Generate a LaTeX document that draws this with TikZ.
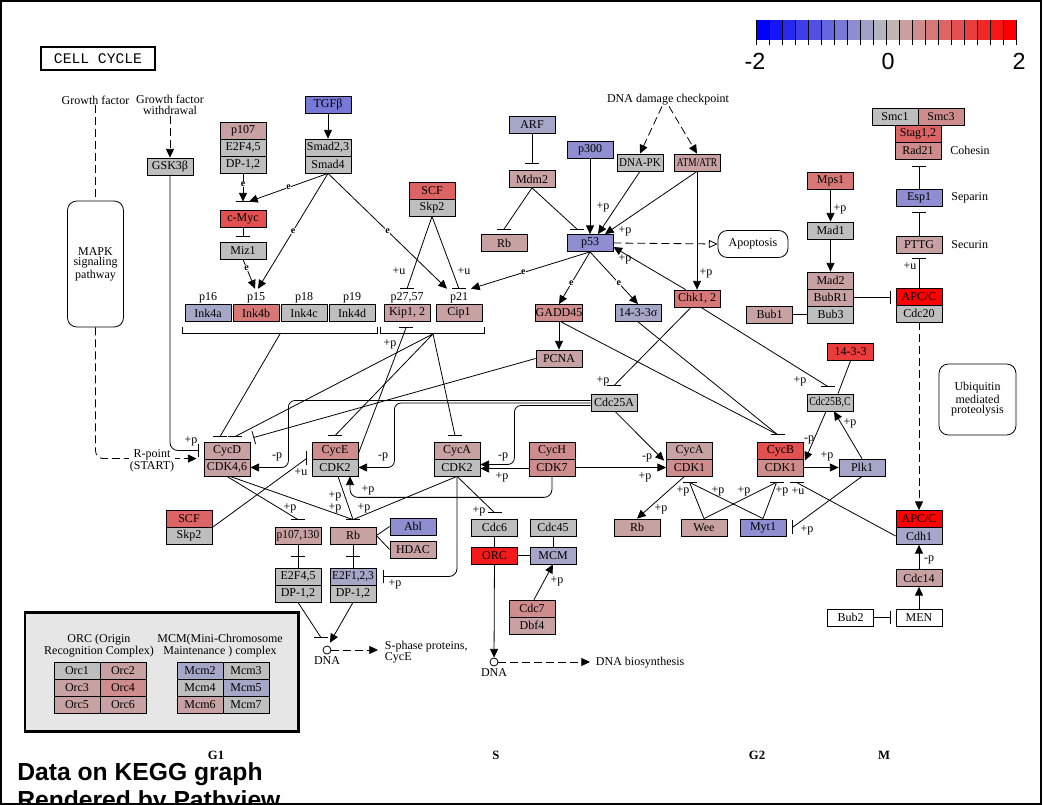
\documentclass[tikz,border=0pt]{standalone}
\usepackage{fontspec}
\setmainfont{Liberation Serif}
\setsansfont{Liberation Sans}
\setmonofont{Liberation Mono}
\usepackage{xcolor}
\usepackage{tikz}
\usetikzlibrary{arrows.meta,positioning,calc}
\definecolor{kg}{HTML}{BEBEBE}
\definecolor{pr1}{HTML}{C8A2A2}
\definecolor{pr2}{HTML}{CF8C8C}
\definecolor{pr3}{HTML}{D67878}
\definecolor{pr4}{HTML}{DD6464}
\definecolor{pr5}{HTML}{E35050}
\definecolor{pr6}{HTML}{EA3C3C}
\definecolor{pr8}{HTML}{F51A1A}
\definecolor{pr9}{HTML}{FF0000}
\definecolor{pb1}{HTML}{A6A6C8}
\definecolor{pb2}{HTML}{8E8ED0}
\definecolor{pb3}{HTML}{7878D6}
\definecolor{legendbg}{HTML}{E6E6E6}
\newcommand{\genefont}{\fontsize{9}{9}\selectfont}
\newcommand{\tagfont}{\fontsize{9}{8}\selectfont}
\tikzset{
  gene/.style={draw, line width=0.6pt, fill=kg, minimum width=34.5pt, minimum height=12.75pt, inner sep=0pt, font=\genefont},
  pathway/.style={draw, line width=0.6pt, rounded corners=7pt, align=center, font=\tagfont, inner sep=1pt},
  plain/.style={font=\tagfont, inner sep=0.5pt, align=center},
  tag/.style={font=\tagfont, inner sep=0.5pt},
  etag/.style={font=\fontsize{7.5}{7.5}\selectfont\bfseries, inner sep=0.3pt, fill=white},
  phase/.style={font=\fontsize{9.5}{9.5}\selectfont\bfseries, inner sep=0pt},
  credit/.style={font=\sffamily\bfseries\fontsize{18.5}{18.5}\selectfont, anchor=base west, inner sep=0pt, text height=13pt},
  edge/.style={line width=0.6pt},
  arr/.style={edge, -{Triangle[length=6.5pt,width=6pt]}},
  inh/.style={edge, -{Bar[width=10pt]}},
  dashline/.style={edge, dash pattern=on 6pt off 3pt},
  dasharr/.style={arr, dash pattern=on 6pt off 3pt}
}
\newcommand{\hinh}[1]{\draw[edge] ($(#1)+(-7,0)$) -- ($(#1)+(7,0)$);}
\newcommand{\vinh}[1]{\draw[edge] ($(#1)+(0,-7)$) -- ($(#1)+(0,7)$);}

\begin{document}
\begin{tikzpicture}[x=0.75pt,y=-0.75pt]
\useasboundingbox (0,0) rectangle (1043,805);
\clip (0,0) rectangle (1043,805);
\draw[line width=1.5pt] (0.8,0.8) rectangle (1040.5,803.5);

% title and colour key
\node[draw, line width=1.5pt, minimum width=85pt, minimum height=17pt, inner sep=0pt, font=\ttfamily\fontsize{11}{11}\selectfont] (title) at (98,58.5) {CELL CYCLE};
\foreach \k in {0,...,19}{
  \pgfmathtruncatemacro\mixv{\k<10 ? round(100*\k/9.5) : round(100-100*(\k-9.5)/9.5)}
  \ifnum\k<10 \colorlet{segc}{kg!\mixv!blue}\else\colorlet{segc}{kg!\mixv!red}\fi
  \fill[segc] (756+13*\k,20) rectangle (769+13*\k,40);
}
\foreach \k in {0,...,20}{\draw[edge] (756+13*\k,20) -- (756+13*\k,45);}
\node[font=\sffamily\fontsize{17.5}{17.5}\selectfont, inner sep=0pt] (kmin) at (755,61.5) {-2};
\node[font=\sffamily\fontsize{17.5}{17.5}\selectfont, inner sep=0pt] (kmid) at (888,61.5) {0};
\node[font=\sffamily\fontsize{17.5}{17.5}\selectfont, inner sep=0pt] (kmax) at (1019,61.5) {2};

% G1 entry
\node[plain] (gf) at (95.5,100) {Growth factor};
\node[plain] (gfw) at (170,105) {Growth factor\\withdrawal};
\node[gene] (gsk) at (170,166.5) {GSK3β};
\node[pathway, minimum width=42pt, minimum height=94.5pt] (mapk) at (95.5,264) {MAPK\\signaling\\pathway};
\node[gene, fill=pb3] (tgfb) at (328,104.5) {TGFβ};
\node[gene] (smad23) at (328,147.5) {Smad2,3};
\node[gene] (smad4) at (328,164.5) {Smad4};
\node[gene, fill=pr1] (p107) at (243,130.5) {p107};
\node[gene] (e2f45t) at (243,147.5) {E2F4,5};
\node[gene] (dp12t) at (243,164.5) {DP-1,2};
\node[gene, fill=pr5] (cmyc) at (243,218.5) {c-Myc};
\node[gene] (miz1) at (243,250.5) {Miz1};
\node[gene, fill=pb1] (ink4a) at (208,313) {Ink4a};
\node[gene, fill=pr3] (ink4b) at (256,313) {Ink4b};
\node[gene] (ink4c) at (304,313) {Ink4c};
\node[gene] (ink4d) at (352,313) {Ink4d};
\node[tag, above=0pt of ink4a] (lp16) {p16};
\node[tag, above=0pt of ink4b] (lp15) {p15};
\node[tag, above=0pt of ink4c] (lp18) {p18};
\node[tag, above=0pt of ink4d] (lp19) {p19};
\node[gene, fill=pr4] (scft) at (432,190.5) {SCF};
\node[gene] (skp2t) at (432,207.5) {Skp2};
\node[gene, fill=pr1] (kip) at (407,313) {Kip1, 2};
\node[gene, fill=pr1] (cip) at (459,313) {Cip1};
\node[tag, above=0pt of kip] (lp27) {p27,57};
\node[tag, above=0pt of cip] (lp21) {p21};

% p53 branch
\node[gene, fill=pb1] (arf) at (532,124.5) {ARF};
\node[gene, fill=pr1] (mdm2) at (532,179) {Mdm2};
\node[gene, fill=pr1] (rbt) at (504,243) {Rb};
\node[gene, fill=pb2] (p300) at (590,150) {p300};
\node[gene, fill=pb2] (p53) at (590,243) {p53};
\node[gene] (dnapk) at (640,162.5) {\scalebox{0.92}[1]{DNA-PK}};
\node[gene, fill=pr1] (atm) at (697,162.5) {\scalebox{0.78}[1]{ATM/ATR}};
\node[plain] (ddc) at (668,100) {DNA damage checkpoint};
\node[pathway, minimum width=52.5pt, minimum height=20.25pt] (apop) at (753,244) {Apoptosis};
\node[gene, fill=pr2] (gadd) at (559,313) {GADD45};
\node[gene, fill=pb1] (s1433) at (638,313) {14-3-3σ};
\node[gene, fill=pr3] (chk) at (697,298.5) {Chk1, 2};
\node[gene, fill=pr1] (pcna) at (559,358.5) {PCNA};
\node[gene] (cdc25a) at (614,402.5) {Cdc25A};

% spindle checkpoint and cohesin
\node[gene, fill=pr3] (mps1) at (830.5,180.5) {Mps1};
\node[gene] (mad1) at (830.5,230.5) {Mad1};
\node[gene, fill=pr1] (mad2) at (830.5,280.5) {Mad2};
\node[gene, fill=pr1] (bubr1) at (830.5,297.5) {BubR1};
\node[gene] (bub3) at (830.5,314.5) {Bub3};
\node[gene, fill=pr1] (bub1) at (769.5,314.5) {Bub1};
\node[gene] (smc1) at (895,116.5) {Smc1};
\node[gene, fill=pr2] (smc3) at (941,116.5) {Smc3};
\node[gene, fill=pr4] (stag) at (918,133.5) {Stag1,2};
\node[gene, fill=pr2] (rad21) at (918,150.5) {Rad21};
\node[tag, right=6pt of rad21] (cohesin) {Cohesin};
\node[gene, fill=pb2] (esp1) at (919,197.5) {Esp1};
\node[tag, right=6pt of esp1] (separin) {Separin};
\node[gene, fill=pr1] (pttg) at (919,244.5) {PTTG};
\node[tag, right=6pt of pttg] (securin) {Securin};
\node[gene, fill=pr9] (apct) at (919,296.5) {APC/C};
\node[gene] (cdc20) at (919,313.5) {Cdc20};
\node[gene, fill=pr6] (s143) at (850.5,352) {14-3-3};
\node[gene] (cdc25bc) at (830,402.5) {\scalebox{0.82}[1]{Cdc25B,C}};
\node[pathway, minimum width=57.75pt, minimum height=53.25pt] (ubiq) at (977.5,399.5) {Ubiquitin\\mediated\\proteolysis};

% cyclin / CDK row
\node[gene, fill=pr1] (cycd) at (227,450.5) {CycD};
\node[gene, fill=pr1] (cdk46) at (227,467.5) {CDK4,6};
\node[gene, fill=pr2] (cyce) at (335,450.5) {CycE};
\node[gene] (cdk2e) at (335,467.5) {CDK2};
\node[gene, fill=pr1] (cyca2) at (457,450.5) {CycA};
\node[gene] (cdk2a) at (457,467.5) {CDK2};
\node[gene, fill=pr2] (cych) at (552,450.5) {CycH};
\node[gene, fill=pr2] (cdk7) at (552,467.5) {CDK7};
\node[gene, fill=pr1] (cyca1) at (689.5,450.5) {CycA};
\node[gene, fill=pr2] (cdk1a) at (689.5,467.5) {CDK1};
\node[gene, fill=pr5] (cycb) at (780.5,450.5) {CycB};
\node[gene, fill=pr2] (cdk1b) at (780.5,467.5) {CDK1};
\node[gene, fill=pb1] (plk1) at (862,467.5) {Plk1};

% lower part
\node[gene, fill=pr4] (scfb) at (189,518.5) {SCF};
\node[gene] (skp2b) at (189,535.5) {Skp2};
\node[gene, fill=pr1] (p107130) at (298,535.5) {\scalebox{0.95}[1]{p107,130}};
\node[gene, fill=pr1] (rbm) at (353,535.5) {Rb};
\node[gene, fill=pb2] (abl) at (413,526.5) {Abl};
\node[gene, fill=pr1] (hdac) at (413,549.5) {HDAC};
\node[gene] (e2f45b) at (298,576.5) {E2F4,5};
\node[gene] (dp12a) at (298,593.5) {DP-1,2};
\node[gene, fill=pb1] (e2f123) at (353,576.5) {\scalebox{0.95}[1]{E2F1,2,3}};
\node[gene] (dp12b) at (353,593.5) {DP-1,2};
\node[gene] (cdc6) at (494.5,527.5) {Cdc6};
\node[gene] (cdc45) at (553,527.5) {Cdc45};
\node[gene, fill=pr8] (orc) at (494.5,555.5) {ORC};
\node[gene, fill=pb1] (mcm) at (553,555.5) {MCM};
\node[gene, fill=pr2] (cdc7) at (532,608.5) {Cdc7};
\node[gene, fill=pr1] (dbf4) at (532,625.5) {Dbf4};
\node[gene, fill=pr1] (rbb) at (637,527.5) {Rb};
\node[gene, fill=pr1] (wee) at (704,527.5) {Wee};
\node[gene, fill=pb2] (myt1) at (763,527.5) {Myt1};
\node[gene, fill=pr9] (apcb) at (919,519) {APC/C};
\node[gene, fill=pb1] (cdh1) at (919,536) {Cdh1};
\node[gene, fill=pr1] (cdc14) at (919,578) {Cdc14};
\node[gene, fill=white] (bub2) at (850.5,617.5) {Bub2};
\node[gene, fill=white] (men) at (919,617.5) {MEN};
\node[circle, draw, line width=0.6pt, minimum size=6pt, inner sep=0pt] (dna1) at (327,650) {};
\node[tag, below=1pt of dna1] (dna1lab) {DNA};
\node[circle, draw, line width=0.6pt, minimum size=6pt, inner sep=0pt] (dna2) at (494,662) {};
\node[tag, below=1pt of dna2] (dna2lab) {DNA};
\node[tag, anchor=west, align=left] (sphase) at (384,652) {S-phase proteins,\\CycE};
\node[tag, anchor=west] (dnabio) at (595,663) {DNA biosynthesis};

% legend
\node[draw, line width=2pt, fill=legendbg, minimum width=205pt, minimum height=89pt] (legend) at (161.5,672) {};
\node[plain] (orclab) at (99,645.5) {ORC (Origin\\Recognition Complex)};
\node[plain] (mcmlab) at (220,645.5) {MCM(Mini-Chromosome\\Maintenance ) complex};
\node[gene] (orc1) at (77,670.5) {Orc1};
\node[gene, fill=pr1] (orc2) at (123,670.5) {Orc2};
\node[gene, fill=pr1] (orc3) at (77,687.5) {Orc3};
\node[gene, fill=pr2] (orc4) at (123,687.5) {Orc4};
\node[gene, fill=pr1] (orc5) at (77,704.5) {Orc5};
\node[gene, fill=pr1] (orc6) at (123,704.5) {Orc6};
\node[gene, fill=pb1] (mcm2) at (200,670.5) {Mcm2};
\node[gene] (mcm3) at (246,670.5) {Mcm3};
\node[gene] (mcm4) at (200,687.5) {Mcm4};
\node[gene, fill=pb1] (mcm5) at (246,687.5) {Mcm5};
\node[gene, fill=pr1] (mcm6) at (200,704.5) {Mcm6};
\node[gene] (mcm7) at (246,704.5) {Mcm7};

\node[phase] (g1) at (216,755) {G1};
\node[phase] (sph) at (496,755) {S};
\node[phase] (g2) at (757,755) {G2};
\node[phase] (mph) at (884,755) {M};
\node[credit] (datatxt) at (17,780) {Data on KEGG graph};
\node[credit] (rendtxt) at (17,808) {Rendered by Pathview};

% connectors: growth signals
\draw[dashline] (gf.south) -- (mapk.north);
\draw[dasharr] (gfw.south) -- (gsk.north);
\draw[dasharr, rounded corners=6pt] (mapk.south) |- ($(cdk46.north west)+(-7,0)$);
\node[plain, fill=white] (rpoint) at (152,461) {R-point\\(START)};
\draw[inh, rounded corners=6pt] (gsk.south) |- ($(cycd.west)+(-5,0)$);
\draw[arr] (tgfb) -- (smad23);
\coordinate (mycbar) at ($(cmyc.north)+(0,-8)$);
\draw[arr] (dp12t) -- (mycbar) node[etag, pos=0.4] (e1) {e};
\draw[arr] (smad4.south) -- ($(mycbar)+(6,0)$) node[etag, pos=0.5] (e2) {e};
\hinh{mycbar}
\draw[inh] (cmyc) -- ($(miz1.north)+(0,-5)$);
\draw[arr] (smad4.south) -- ($(lp15.north)+(2,-3)$) node[etag, pos=0.5] (e3) {e};
\draw[arr] (miz1.south) -- ($(lp15.north)+(-1,-3)$) node[etag, pos=0.3] (e4) {e};
\draw[arr] (smad4.south) -- ($(lp21.north)+(-12,-3)$) node[etag, pos=0.5] (e5) {e};
\draw[arr] (p53.south) -- ($(lp21.north)+(12,-3)$) node[etag, pos=0.56] (e6) {e};
\coordinate (kipbar) at ($(lp27.north)+(0,-3)$);
\coordinate (cipbar) at ($(lp21.north)+(0,-3)$);
\draw[edge] (skp2t.south) -- (kipbar); \hinh{kipbar}
\draw[edge] (skp2t.south) -- (cipbar); \hinh{cipbar}

% p53 branch
\draw[inh] (arf) -- ($(mdm2.north)+(0,-6)$);
\coordinate (rbtbar) at ($(rbt.north)+(0,-5)$);
\coordinate (p53bar) at ($(p53.north)+(-13,-5)$);
\draw[edge] (mdm2.south) -- (rbtbar); \hinh{rbtbar}
\draw[edge] (mdm2.south) -- (p53bar); \hinh{p53bar}
\draw[arr] (p300) -- (p53);
\draw[arr] (dnapk.south) -- ($(p53.north)+(8,0)$);
\draw[arr] (atm.south) -- ($(p53.north)+(15,0)$);
\draw[dasharr] ($(ddc.south)+(-6,0)$) -- (dnapk.north);
\draw[dasharr] ($(ddc.south)+(1,0)$) -- (atm.north);
\draw[arr] (atm.south) -- (chk.north);
\draw[dashline, -{Triangle[open,length=6.5pt,width=6pt]}] (p53.east) -- (apop.west);
\draw[arr] ($(chk.north west)+(12,0)$) -- ($(p53.east)+(0,4)$);
\draw[arr] (p53.south) -- (gadd.north) node[etag, pos=0.6] (e7) {e};
\draw[arr] (p53.south) -- (s1433.north) node[etag, pos=0.6] (e8) {e};
\draw[arr] (gadd) -- (pcna);

% spindle checkpoint and cohesin
\draw[arr] (mps1) -- (mad1);
\draw[arr] (mad1) -- (mad2);
\draw[inh] (bubr1.east) -- ($(bubr1.east -| apct.west)+(-5,0)$);
\draw[edge] (bub1) -- (bub3);
\draw[inh] (esp1) -- ($(esp1.north |- rad21.south)+(0,7)$);
\draw[inh] (pttg) -- ($(esp1.south)+(0,6)$);
\draw[inh] (apct) -- ($(pttg.south)+(0,5)$);
\draw[dasharr] (cdc20) -- (apcb);
\draw[arr] (cdc14) -- (cdh1);
\draw[arr] (men) -- (cdc14);
\draw[inh] (bub2) -- ($(men.west)+(-5,0)$);

% G2/M
\coordinate (c25abar) at ($(cdc25a.north)+(0,-8)$);
\coordinate (c25bcbar) at ($(cdc25bc.north)+(-2,-7)$);
\draw[edge] ($(chk.south)+(-6,0)$) -- (c25abar); \hinh{c25abar}
\draw[edge] ($(chk.south)+(4,0)$) -- (c25bcbar); \hinh{c25bcbar}
\draw[edge] (s143.south) -- ($(cdc25bc.north)+(8,0)$);
\coordinate (cycbbar) at ($(cycb.north)+(-3,-7)$);
\draw[edge] ($(gadd.south)+(2,0)$) -- (cycbbar);
\draw[edge] (s1433.south) -- (cycbbar);
\hinh{cycbbar}
\draw[arr] ($(cdc25bc.south)+(-4,0)$) -- ($(cdk1b.north east)+(1,2)$);
\draw[arr] (plk1.north) -- ($(cdc25bc.south)+(4,0)$);
\draw[arr] (cdk1b) -- (plk1);
\coordinate (myt1bar) at ($(myt1.east)+(6,0)$);
\draw[edge] (plk1.south) -- (myt1bar); \vinh{myt1bar}
\coordinate (cdk1abar) at ($(cdk1a.south)+(0,6)$);
\coordinate (cdk1bbar) at ($(cdk1b.south)+(-4,6)$);
\coordinate (cdk1ubar) at ($(cdk1b.south)+(16,6)$);
\draw[edge] (wee.north) -- (cdk1abar);
\draw[edge] (wee.north) -- (cdk1bbar);
\draw[edge] (myt1.north) -- (cdk1abar);
\draw[edge] (myt1.north) -- (cdk1bbar);
\draw[edge] (cdh1.west) -- (cdk1ubar);
\hinh{cdk1abar} \hinh{cdk1bbar} \hinh{cdk1ubar}
\draw[arr] ($(cdk1a.south)+(-5,0)$) -- (rbb.north);
\draw[arr] (cdk7) -- (cdk1a);
\draw[arr] ($(cdc25a.south)+(1,0)$) -- ($(cdk1a.north west)+(-2,2)$);

% G1/S
\draw[arr] ($(cdk7.west)+(0,1)$) -- ($(cdk2a.east)+(0,1)$);
\draw[arr, rounded corners=5pt] ($(cdc25a.west)+(0,3)$) -| ($(cdk2a.east)+(34,-3)$) -- ($(cdk2a.east)+(0,-3)$);
\draw[arr, rounded corners=5pt] ($(cdc25a.west)+(0,0.5)$) -| ($(cdk2e.east)+(36,0)$) -- (cdk2e.east);
\draw[arr, rounded corners=5pt] ($(cdc25a.west)+(0,-2)$) -| ($(cdk46.east)+(38,0)$) -- (cdk46.east);
\draw[arr, rounded corners=6pt] (cdk7.south) |- ($(cdk2e.south)+(15,21)$) -- ($(cdk2e.south)+(15,0)$);
\draw[edge] ($(kip.south west)+(-3,5)$) -- ++(0,7) -| ($(cip.south east)+(2,5)$);
\draw[edge] ($(ink4a.south west)+(-2,5)$) -- ++(0,7) -| ($(ink4d.south east)+(2,5)$);
\coordinate (kcb) at ($(kip.south)!0.5!(cip.south)+(0,12)$);
\coordinate (inkc) at ($(ink4a.south)!0.5!(ink4d.south)+(0,12)$);
\coordinate (cycdbar1) at ($(cycd.north)+(-7,-5)$);
\coordinate (cycdbar2) at ($(cycd.north)+(8,-5)$);
\coordinate (cycebar) at ($(cyce.north)+(0,-6)$);
\coordinate (cycabar) at ($(cyca2.north)+(-2,-6)$);
\draw[edge] (inkc) -- (cycdbar1); \hinh{cycdbar1}
\draw[edge] (kcb) -- (cycdbar2); \hinh{cycdbar2}
\draw[edge] (kcb) -- (cycebar); \hinh{cycebar}
\draw[edge] (kcb) -- (cycabar); \hinh{cycabar}
\draw[inh] (pcna.west) -- ($(cycd.north east)+(3,-4)$);
\coordinate (kipbar2) at ($(kip.south)+(-1,6)$);
\draw[edge] ($(cyce.east)+(0,3)$) -- (kipbar2); \hinh{kipbar2}
\coordinate (cycebar2) at ($(cyce.west)+(-5,8)$);
\draw[edge] (scfb.south east) -- (cycebar2); \vinh{cycebar2}
\coordinate (p107bar) at ($(p107130.north)+(0,-7)$);
\coordinate (rbmbar) at ($(rbm.north)+(0,-7)$);
\draw[edge] (cdk46.south) -- (p107bar); \hinh{p107bar}
\draw[edge] ($(cdk46.south)+(3,0)$) -- (rbmbar);
\draw[edge] ($(cdk2e.south)+(3,0)$) -- (rbmbar);
\draw[edge] (cdk2a.south) -- (rbmbar);
\hinh{rbmbar}
\coordinate (cdc6bar) at ($(cdc6.north)+(0,-6)$);
\draw[edge] (cdk2a.south) -- (cdc6bar); \hinh{cdc6bar}
\draw[inh, rounded corners=6pt] (cdk2a.south) |- ($(e2f123.east)+(7,0)$);
\draw[edge] (rbm.east) -- (abl.west);
\draw[edge] (rbm.east) -- (hdac.west);
\draw[edge] (p107130) -- (e2f45b);
\coordinate (pxb) at ($(p107130.south)!0.5!(e2f45b.north)$); \hinh{pxb}
\draw[edge] (rbm) -- (e2f123);
\coordinate (rxb) at ($(rbm.south)!0.5!(e2f123.north)$); \hinh{rxb}
\coordinate (dnabar) at ($(dna1.north)+(-6,-8)$);
\draw[edge] (dp12a.south) -- (dnabar); \hinh{dnabar}
\draw[arr] (dp12b.south) -- ($(dna1.north)+(3,-3)$);
\draw[dasharr] (dna1.east) -- ($(dna1.east -| sphase.west)+(-6,0)$);
\draw[edge] (cdc6) -- (orc);
\draw[edge] (cdc45) -- (mcm);
\draw[edge] (orc) -- (mcm);
\draw[arr] (orc) -- (dna2);
\draw[dasharr] (dna2.east) -- ($(dna2.east -| dnabio.west)+(-5,0)$);
\draw[arr] ($(cdc7.north)+(2,0)$) -- (mcm.south);

% modification tags
\node[tag] (t1) at (191,441) {+p};
\node[tag] (t2) at (399,271) {+u};
\node[tag] (t3) at (464,271) {+u};
\node[tag] (t4) at (603,207) {+p};
\node[tag] (t5) at (625,231) {+p};
\node[tag] (t6) at (625,259) {+p};
\node[tag] (t7) at (706,273) {+p};
\node[tag] (t8) at (840,209) {+p};
\node[tag] (t9) at (910,266) {+u};
\node[tag] (t10) at (929,560) {-p};
\node[tag] (t11) at (603,381) {+p};
\node[tag] (t12) at (800,381) {+p};
\node[tag] (t13) at (809,440) {-p};
\node[tag] (t14) at (850,423) {+p};
\node[tag] (t15) at (827,456) {+p};
\node[tag] (t16) at (807,530) {+p};
\node[tag] (t17) at (683,491) {+p};
\node[tag] (t18) at (718,491) {+p};
\node[tag] (t19) at (744,491) {+p};
\node[tag] (t20) at (782,491) {+p};
\node[tag] (t21) at (798,491) {+u};
\node[tag] (t22) at (661,509) {+p};
\node[tag] (t23) at (645,477) {+p};
\node[tag] (t24) at (647,458) {-p};
\node[tag] (t25) at (502,477) {+p};
\node[tag] (t26) at (503,457) {-p};
\node[tag] (t27) at (383,457) {-p};
\node[tag] (t28) at (277,457) {-p};
\node[tag] (t29) at (368,490) {+p};
\node[tag] (t30) at (390,344) {+p};
\node[tag] (t31) at (301,472) {+u};
\node[tag] (t32) at (290,508) {+p};
\node[tag] (t33) at (335,496) {+p};
\node[tag] (t34) at (335,508) {+p};
\node[tag] (t35) at (364,508) {+p};
\node[tag] (t36) at (479,511) {+p};
\node[tag] (t37) at (395,584) {+p};
\node[tag] (t38) at (557,581) {+p};
\end{tikzpicture}
\end{document}
